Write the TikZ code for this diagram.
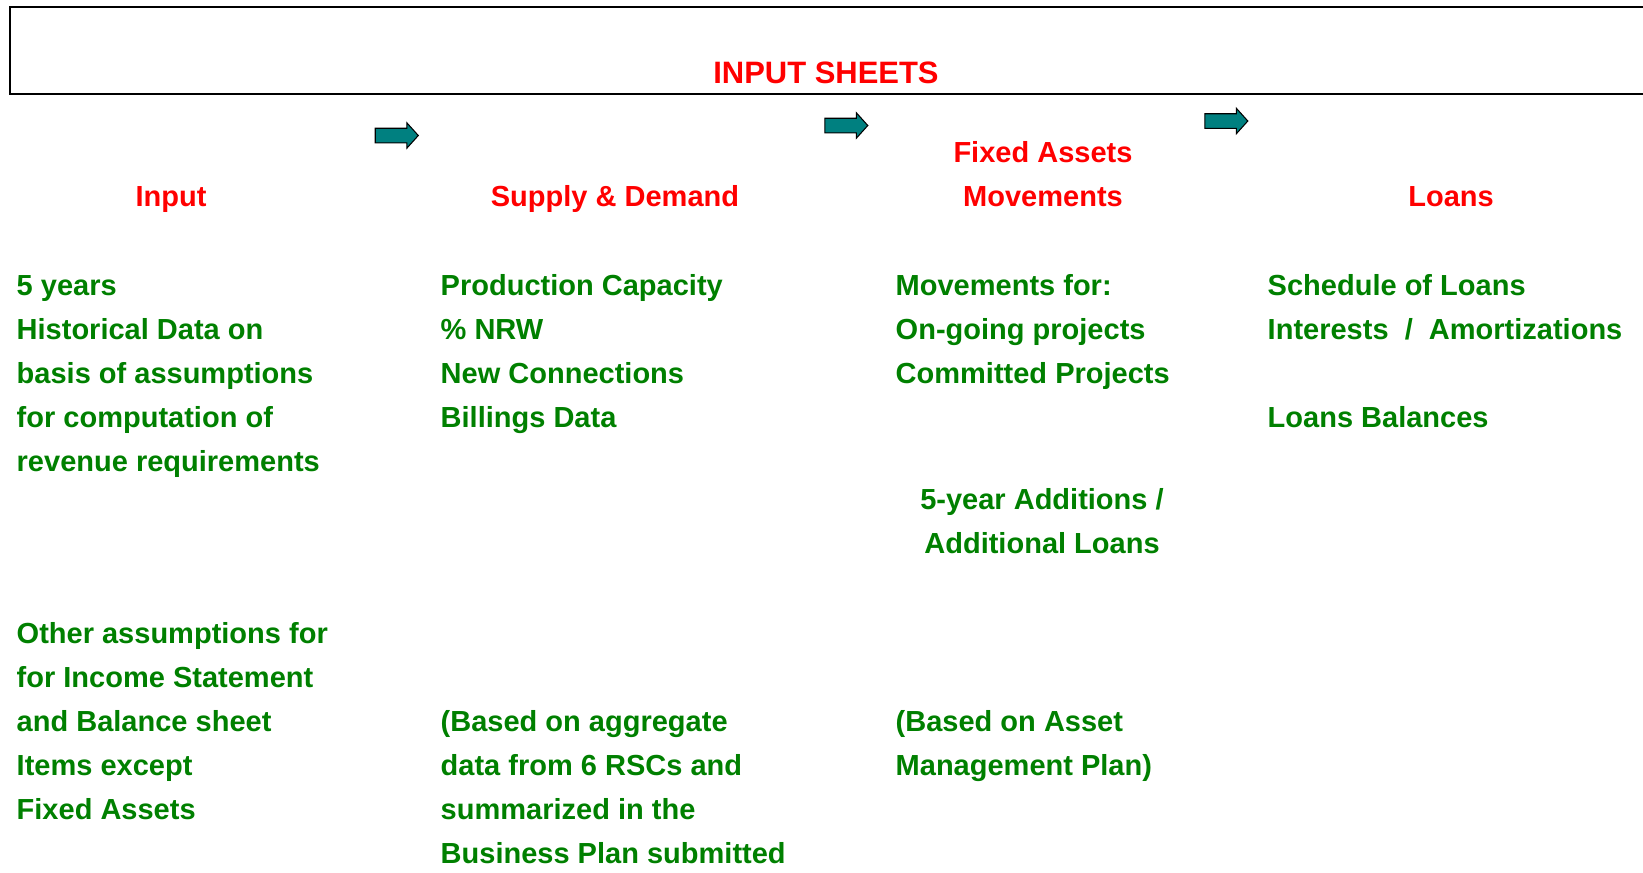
\documentclass[tikz,border=0pt]{standalone}
\usepackage{fontspec}
\setmainfont{Liberation Sans}
\usetikzlibrary{shapes.arrows}
\definecolor{hdred}{RGB}{255,0,0}
\definecolor{txgreen}{RGB}{0,128,0}
\definecolor{arrteal}{RGB}{0,128,128}
\tikzset{hd/.style={text=hdred,inner sep=0,font=\bfseries\fontsize{8.25}{12.5}\selectfont}}
\tikzset{tx/.style={text=txgreen,inner sep=0,align=left,anchor=base west,font=\bfseries\fontsize{8.25}{12.5}\selectfont}}
\tikzset{arr/.style={single arrow,draw=black,line width=.3pt,fill=arrteal,inner xsep=0,inner ysep=.0675cm,
  single arrow head extend=.055cm,single arrow tip angle=96,minimum height=.43cm}}

\begin{document}
\begin{tikzpicture}[x=.01cm,y=-.01cm]
            \useasboundingbox (0,0) rectangle (1643,872);
            \draw[line width=.8pt] (10,7) rectangle (1660,94);
            \node[hd,anchor=base,font=\bfseries\fontsize{8.8}{12.5}\selectfont] (title) at (826,83) {INPUT SHEETS};
            \node[arr] (arr1) at (393.5,135.5) {};
            \node[arr] (arr2) at (843,125.5) {};
            \node[arr] (arr3) at (1223,121) {};
            % multi-line nodes: base is the last line
            \node[hd,anchor=base] (hinput) at (171,206) {Input};
            \node[hd,anchor=base] (hsupply) at (615,206) {Supply \& Demand};
            \node[hd,anchor=base,align=center] (hfixed) at (1043,206) {Fixed Assets\\Movements};
            \node[hd,anchor=base] (hloans) at (1451,206) {Loans};
            \node[tx] (input) at (16,471) {5 years\\Historical Data on\\basis of assumptions\\for computation of\\revenue requirements};
            \node[tx] (inputb) at (16,819) {Other assumptions for\\for Income Statement\\and Balance sheet\\Items except\\Fixed Assets};
            \node[tx] (supply) at (440,427) {Production Capacity\\\% NRW\\New Connections\\Billings Data};
            \node[tx] (supplyb) at (440,863) {(Based on aggregate\\data from 6 RSCs and\\summarized in the\\Business Plan submitted};
            \node[tx] (fixed) at (895,383) {Movements for:\\On-going projects\\Committed Projects};
            \node[tx,anchor=base,align=center] (fixedadd) at (1042,553) {5-year Additions /\\Additional Loans};
            \node[tx] (fixedb) at (895,775) {(Based on Asset\\Management Plan)};
            \node[tx] (loans) at (1267,427) {Schedule of Loans\\Interests~~/~~Amortizations\\[12.5pt]Loans Balances};
          \end{tikzpicture}
\end{document}
